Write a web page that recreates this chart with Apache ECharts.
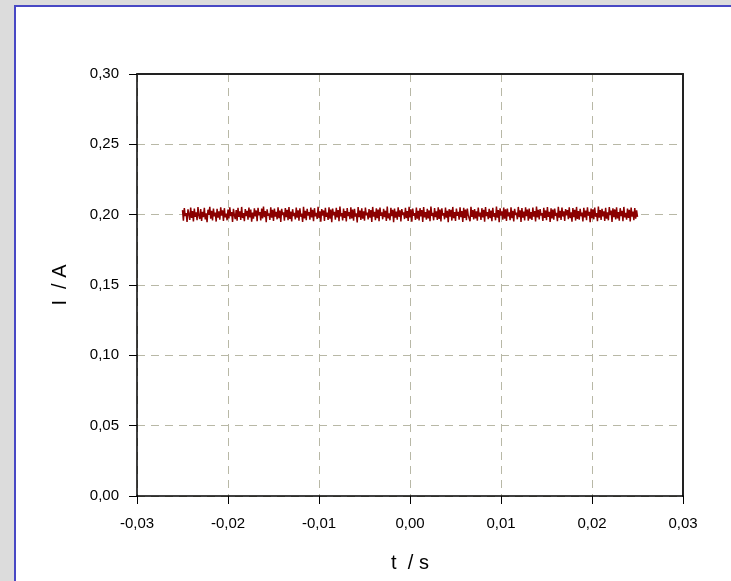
<!DOCTYPE html>
<html>
<head>
<meta charset="utf-8">
<script src="https://cdn.jsdelivr.net/npm/echarts@6/dist/echarts.min.js"></script>
<style>
html,body{margin:0;padding:0;background:#dcdcdc;}
#chart{width:731px;height:581px;}
</style>
</head>
<body>
<div id="chart"></div>
<script>
// Sampling grid of the recorded trace (seconds)
const tStart = -0.025;
const tStep = 0.0001;
// Measured current I (A)
const currentValues = [
0.2032,0.1958,0.2047,0.1991,0.2012,0.1949,0.2038,0.2004,0.1963,0.2051,0.1977,0.2026,0.1952,0.2043,0.1985,0.2017,0.1961,0.2054,0.1994,0.1969,
0.2039,0.1956,0.2021,0.1983,0.2048,0.1966,0.2009,0.1947,0.2035,0.1998,0.2056,0.1972,0.2028,0.1959,0.2044,0.1988,0.2015,0.1951,0.2041,0.1979,
0.2024,0.1964,0.2052,0.1993,0.2031,0.1955,0.2046,0.1981,0.2007,0.1960,0.2037,0.1974,0.2053,0.1989,0.2019,0.1948,0.2042,0.1996,0.1968,0.2033,
0.1957,0.2049,0.1984,0.2023,0.1962,0.2055,0.1976,0.2011,0.1953,0.2040,0.1990,0.2027,0.1965,0.2050,0.1980,0.2036,0.1950,0.2014,0.1971,0.2045,
0.1987,0.2030,0.1954,0.2048,0.1995,0.2018,0.1959,0.2043,0.1973,0.2057,0.1982,0.2025,0.1946,0.2038,0.1992,0.2010,0.1963,0.2052,0.1978,0.2034,
0.1955,0.2044,0.1986,0.2020,0.1967,0.2053,0.1975,0.2029,0.1949,0.2041,0.1997,0.2016,0.1958,0.2047,0.1983,0.2035,0.1961,0.2054,0.1970,0.2022,
0.1952,0.2039,0.1991,0.2013,0.1966,0.2050,0.1979,0.2031,0.1957,0.2045,0.1985,0.2008,0.1948,0.2056,0.1973,0.2027,0.1960,0.2042,0.1994,0.2019,
0.1964,0.2051,0.1981,0.2034,0.1953,0.2046,0.1989,0.2012,0.1969,0.2055,0.1976,0.2024,0.1950,0.2040,0.1993,0.2030,0.1956,0.2048,0.1984,0.2015,
0.1962,0.2053,0.1972,0.2037,0.1947,0.2044,0.1996,0.2021,0.1965,0.2049,0.1980,0.2033,0.1954,0.2057,0.1988,0.2011,0.1959,0.2043,0.1977,0.2026,
0.1951,0.2047,0.1990,0.2018,0.1968,0.2052,0.1974,0.2036,0.1957,0.2041,0.1986,0.2009,0.1945,0.2054,0.1982,0.2029,0.1963,0.2046,0.1971,0.2023,
0.1958,0.2050,0.1995,0.2014,0.1966,0.2039,0.1978,0.2032,0.1949,0.2055,0.1987,0.2020,0.1961,0.2045,0.1975,0.2037,0.1953,0.2051,0.1992,0.2017,
0.1967,0.2042,0.1983,0.2028,0.1955,0.2058,0.1973,0.2010,0.1960,0.2048,0.1989,0.2035,0.1946,0.2044,0.1979,0.2022,0.1964,0.2053,0.1985,0.2031,
0.1952,0.2040,0.1997,0.2016,0.1969,0.2049,0.1976,0.2025,0.1956,0.2056,0.1981,0.2038,0.1950,0.2043,0.1993,0.2012,0.1962,0.2051,0.1972,0.2027,
0.1959,0.2046,0.1988,0.2033,0.1948,0.2054,0.1980,0.2019,0.1965,0.2041,0.1974,0.2030,0.1954,0.2057,0.1991,0.2013,0.1960,0.2047,0.1983,0.2024,
0.1963,0.2052,0.1970,0.2036,0.1951,0.2045,0.1994,0.2011,0.1967,0.2050,0.1978,0.2028,0.1947,0.2039,0.1986,0.2034,0.1958,0.2055,0.1975,0.2018,
0.1955,0.2043,0.1992,0.2021,0.1964,0.2053,0.1982,0.2026,0.1949,0.2048,0.1977,0.2037,0.1961,0.2044,0.1996,0.2010,0.1953,0.2056,0.1984,0.2032,
0.1966,0.2040,0.1973,0.2023,0.1957,0.2051,0.1987,0.2015,0.1962,0.2046,0.1980,0.2035,0.1950,0.2054,0.1990,0.2019,0.1968,0.2042,0.1976,0.2029,
0.1954,0.2049,0.1985,0.2012,0.1960,0.2057,0.1979,0.2033,0.1946,0.2045,0.1993,0.2024,0.1965,0.2050,0.1971,0.2038,0.1956,0.2043,0.1988,0.2016,
0.1961,0.2053,0.1975,0.2027,0.1952,0.2041,0.1997,0.2014,0.1967,0.2055,0.1983,0.2031,0.1948,0.2047,0.1978,0.2022,0.1959,0.2052,0.1990,0.2036,
0.1957,0.2044,0.1972,0.2018,0.1963,0.2050,0.1986,0.2025,0.1951,0.2058,0.1981,0.2034,0.1966,0.2040,0.1994,0.2011,0.1955,0.2048,0.1977,0.2030,
0.1960,0.2054,0.1984,0.2020,0.1949,0.2046,0.1973,0.2037,0.1964,0.2043,0.1991,0.2013,0.1953,0.2056,0.1979,0.2028,0.1962,0.2051,0.1987,0.2023,
0.1956,0.2039,0.1995,0.2032,0.1968,0.2052,0.1976,0.2017,0.1950,0.2047,0.1982,0.2035,0.1958,0.2055,0.1970,0.2026,0.1965,0.2042,0.1989,0.2014,
0.1952,0.2049,0.1980,0.2029,0.1961,0.2053,0.1992,0.2021,0.1947,0.2044,0.1975,0.2038,0.1967,0.2050,0.1985,0.2012,0.1954,0.2057,0.1978,0.2033,
0.1963,0.2041,0.1988,0.2024,0.1955,0.2048,0.1971,0.2016,0.1960,0.2054,0.1996,0.2030,0.1949,0.2045,0.1983,0.2037,0.1966,0.2052,0.1974,0.2019,
0.1958,0.2046,0.1990,0.2027,0.1953,0.2055,0.1981,0.2013,0.1964,0.2043,0.1977,0.2035,0.1951,0.2050,0.1986,0.2022,0.1961,0.2047,0.1972,0.2031,
0.1984
];
const xTickLabels = ['-0,03','-0,02','-0,01','0,00','0,01','0,02','0,03'];
const yTickLabels = ['0,00','0,05','0,10','0,15','0,20','0,25','0,30'];
const xAxisTitle = 't  / s';
const yAxisTitle = 'I  / A';

const seriesData = currentValues.map((v, i) => [tStart + i * tStep, v]);

const chart = echarts.init(document.getElementById('chart'), null, {renderer: 'canvas'});
const font = 'Liberation Sans, Arial, sans-serif';
const gridLine = {show: true, lineStyle: {color: '#b8b8a6', type: [8, 6], width: 1}};
chart.setOption({
  backgroundColor: '#dcdcdc',
  animation: false,
  graphic: [
    {type: 'rect', z: -10, shape: {x: 15, y: 6, width: 800, height: 700},
     style: {fill: '#ffffff', stroke: '#4848c4', lineWidth: 2}},
    {type: 'text', x: 410, y: 563, z: 10,
     style: {text: xAxisTitle, font: '20px ' + font, fill: '#000', textAlign: 'center', textVerticalAlign: 'middle'}},
    {type: 'text', x: 60, y: 285, rotation: Math.PI / 2, z: 10,
     style: {text: yAxisTitle, font: '20px ' + font, fill: '#000', textAlign: 'center', textVerticalAlign: 'middle'}}
  ],
  grid: {left: 137, right: 48, top: 74, bottom: 85, show: false},
  xAxis: [{
    type: 'value', min: -0.03, max: 0.03, interval: 0.01, position: 'bottom',
    axisLine: {onZero: false, lineStyle: {color: '#000', width: 1.5}},
    axisTick: {show: true, inside: false, length: 8, lineStyle: {color: '#000'}},
    axisLabel: {margin: 20, color: '#000', fontSize: 15, fontFamily: font,
      formatter: (v, i) => xTickLabels[i]},
    splitLine: gridLine
  }, {
    type: 'value', min: -0.03, max: 0.03, interval: 0.01, position: 'top',
    axisLine: {show: true, onZero: false, lineStyle: {color: '#222', width: 2}},
    axisTick: {show: false}, axisLabel: {show: false}, splitLine: {show: false}
  }],
  yAxis: [{
    type: 'value', min: 0, max: 0.3, interval: 0.05, position: 'left',
    axisLine: {show: true, onZero: false, lineStyle: {color: '#000', width: 1.5}},
    axisTick: {show: true, inside: false, length: 8, lineStyle: {color: '#000'}},
    axisLabel: {margin: 18, color: '#000', fontSize: 15, fontFamily: font,
      formatter: (v, i) => yTickLabels[i]},
    splitLine: gridLine
  }, {
    type: 'value', min: 0, max: 0.3, interval: 0.05, position: 'right',
    axisLine: {show: true, onZero: false, lineStyle: {color: '#222', width: 2}},
    axisTick: {show: false}, axisLabel: {show: false}, splitLine: {show: false}
  }],
  series: [{
    type: 'line', data: seriesData, showSymbol: false, symbol: 'none',
    xAxisIndex: 0, yAxisIndex: 0,
    lineStyle: {color: '#8b0000', width: 1.5}, sampling: null, z: 3
  }]
});
</script>
</body>
</html>
